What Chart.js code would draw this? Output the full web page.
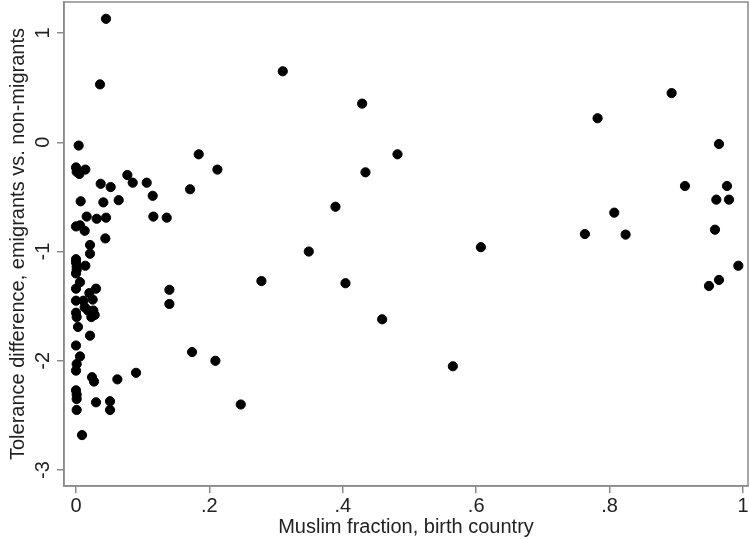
<!DOCTYPE html>
<html>
<head>
<meta charset="utf-8">
<script src="https://cdn.jsdelivr.net/npm/chart.js@4/dist/chart.umd.min.js"></script>
<style>
  html, body { margin: 0; padding: 0; background: #fff; }
  #wrap { width: 750px; height: 539px; }
</style>
</head>
<body>
<div id="wrap"><canvas id="chart"></canvas></div>
<script>
// Muslim fraction of birth country (x) and tolerance difference (y)
const muslimFraction = [
  0.004, 0.000, 0.001, 0.005, 0.014, 0.037, 0.052, 0.007, 0.041, 0.064,
  0.016, 0.031, 0.045, 0.000, 0.006, 0.013, 0.044, 0.021, 0.021, 0.000,
  0.000, 0.001, 0.001, 0.000, 0.014, 0.006, 0.000, 0.030, 0.020, 0.000,
  0.011, 0.025, 0.013, 0.018, 0.026, 0.023, 0.028, 0.000, 0.001, 0.003,
  0.021, 0.000, 0.006, 0.001, 0.000, 0.024, 0.027, 0.062, 0.000, 0.001,
  0.001, 0.030, 0.051, 0.051, 0.001, 0.009, 0.045, 0.036,
  0.077, 0.085, 0.106, 0.115, 0.116, 0.136, 0.184, 0.212, 0.171, 0.140,
  0.140, 0.090, 0.174, 0.209, 0.247, 0.278, 0.310, 0.429, 0.482, 0.434,
  0.389, 0.349, 0.404, 0.459, 0.565, 0.607,
  0.782, 0.893, 0.964, 0.913, 0.976, 0.960, 0.979, 0.807, 0.763, 0.824,
  0.958, 0.993, 0.964, 0.949
];
const toleranceDiff = [
  -0.03, -0.23, -0.27, -0.29, -0.25, -0.38, -0.41, -0.54, -0.55, -0.53,
  -0.68, -0.70, -0.69, -0.77, -0.76, -0.81, -0.88, -0.94, -1.02, -1.07,
  -1.10, -1.14, -1.17, -1.20, -1.13, -1.28, -1.34, -1.34, -1.38, -1.45,
  -1.45, -1.44, -1.51, -1.54, -1.54, -1.60, -1.58, -1.56, -1.60, -1.69,
  -1.77, -1.86, -1.96, -2.03, -2.09, -2.15, -2.19, -2.17, -2.27, -2.31,
  -2.35, -2.38, -2.37, -2.45, -2.45, -2.68, 1.13, 0.53,
  -0.30, -0.37, -0.37, -0.49, -0.68, -0.69, -0.11, -0.25, -0.43, -1.35,
  -1.48, -2.11, -1.92, -2.00, -2.40, -1.27, 0.65, 0.354, -0.11, -0.275,
  -0.59, -1.00, -1.29, -1.62, -2.05, -0.96,
  0.22, 0.45, -0.016, -0.40, -0.40, -0.525, -0.525, -0.644, -0.84, -0.845,
  -0.80, -1.13, -1.26, -1.315
];
const xTicks = [0, 0.2, 0.4, 0.6, 0.8, 1];
const yTicks = [-3, -2, -1, 0, 1];

const points = muslimFraction.map((x, i) => ({ x: x, y: toleranceDiff[i] }));

// Stata style labels: ".2" instead of "0.2"
const fmt = v => {
  const r = Math.round(v * 10) / 10;
  return String(r).replace(/^0\./, '.').replace(/^-0\./, '-.');
};

const FONT = '"Liberation Sans", Arial, sans-serif';
const TXT = '#222';

// box around the plot region + vertical y tick labels
const frame = {
  id: 'frame',
  afterDraw(chart) {
    const a = chart.chartArea, c = chart.ctx, ys = chart.scales.y;
    c.save();
    c.strokeStyle = '#8a8a8a';
    c.lineWidth = 1.5;
    c.strokeRect(a.left, a.top, a.right - a.left, a.bottom - a.top);
    c.fillStyle = TXT;
    c.font = '20px ' + FONT;
    c.textAlign = 'center';
    c.textBaseline = 'middle';
    ys.ticks.forEach(t => {
      c.save();
      c.translate(a.left - 21, ys.getPixelForValue(t.value));
      c.rotate(-Math.PI / 2);
      c.fillText(fmt(t.value), 0, 0);
      c.restore();
    });
    c.restore();
  }
};

Chart.defaults.font.family = FONT;
Chart.defaults.color = TXT;

new Chart(document.getElementById('chart'), {
  type: 'scatter',
  data: {
    datasets: [{
      data: points,
      backgroundColor: '#000',
      borderColor: '#000',
      pointRadius: 4.6,
      pointHoverRadius: 4.6
    }]
  },
  options: {
    responsive: true,
    maintainAspectRatio: false,
    animation: false,
    layout: { autoPadding: false, padding: { top: 2, right: 2, left: 0, bottom: 0 } },
    plugins: { legend: { display: false }, tooltip: { enabled: false } },
    scales: {
      x: {
        type: 'linear',
        min: -0.018,
        max: 1.0075,
        afterBuildTicks: s => { s.ticks = xTicks.map(v => ({ value: v })); },
        afterFit: s => { s.height = 53; s.paddingLeft = 0; s.paddingRight = 0; },
        ticks: { callback: v => fmt(v), font: { size: 20 }, padding: 1, maxRotation: 0 },
        grid: { drawOnChartArea: false, drawTicks: true, tickLength: 7, color: '#8a8a8a', lineWidth: 1.5 },
        border: { display: true, color: '#8a8a8a', width: 1.5 },
        title: { display: true, text: 'Muslim fraction, birth country', font: { size: 20 }, padding: { top: 0, bottom: 0 } }
      },
      y: {
        type: 'linear',
        min: -3.146,
        max: 1.284,
        afterBuildTicks: s => { s.ticks = yTicks.map(v => ({ value: v })); },
        afterFit: s => { s.width = 64; s.paddingTop = 0; s.paddingBottom = 0; },
        ticks: { display: false },
        grid: { drawOnChartArea: false, drawTicks: true, tickLength: 7, color: '#8a8a8a', lineWidth: 1.5 },
        border: { display: true, color: '#8a8a8a', width: 1.5 },
        title: { display: true, text: 'Tolerance difference, emigrants vs. non-migrants', font: { size: 20 }, padding: { top: 6, bottom: 0 } }
      }
    }
  },
  plugins: [frame]
});
</script>
</body>
</html>
